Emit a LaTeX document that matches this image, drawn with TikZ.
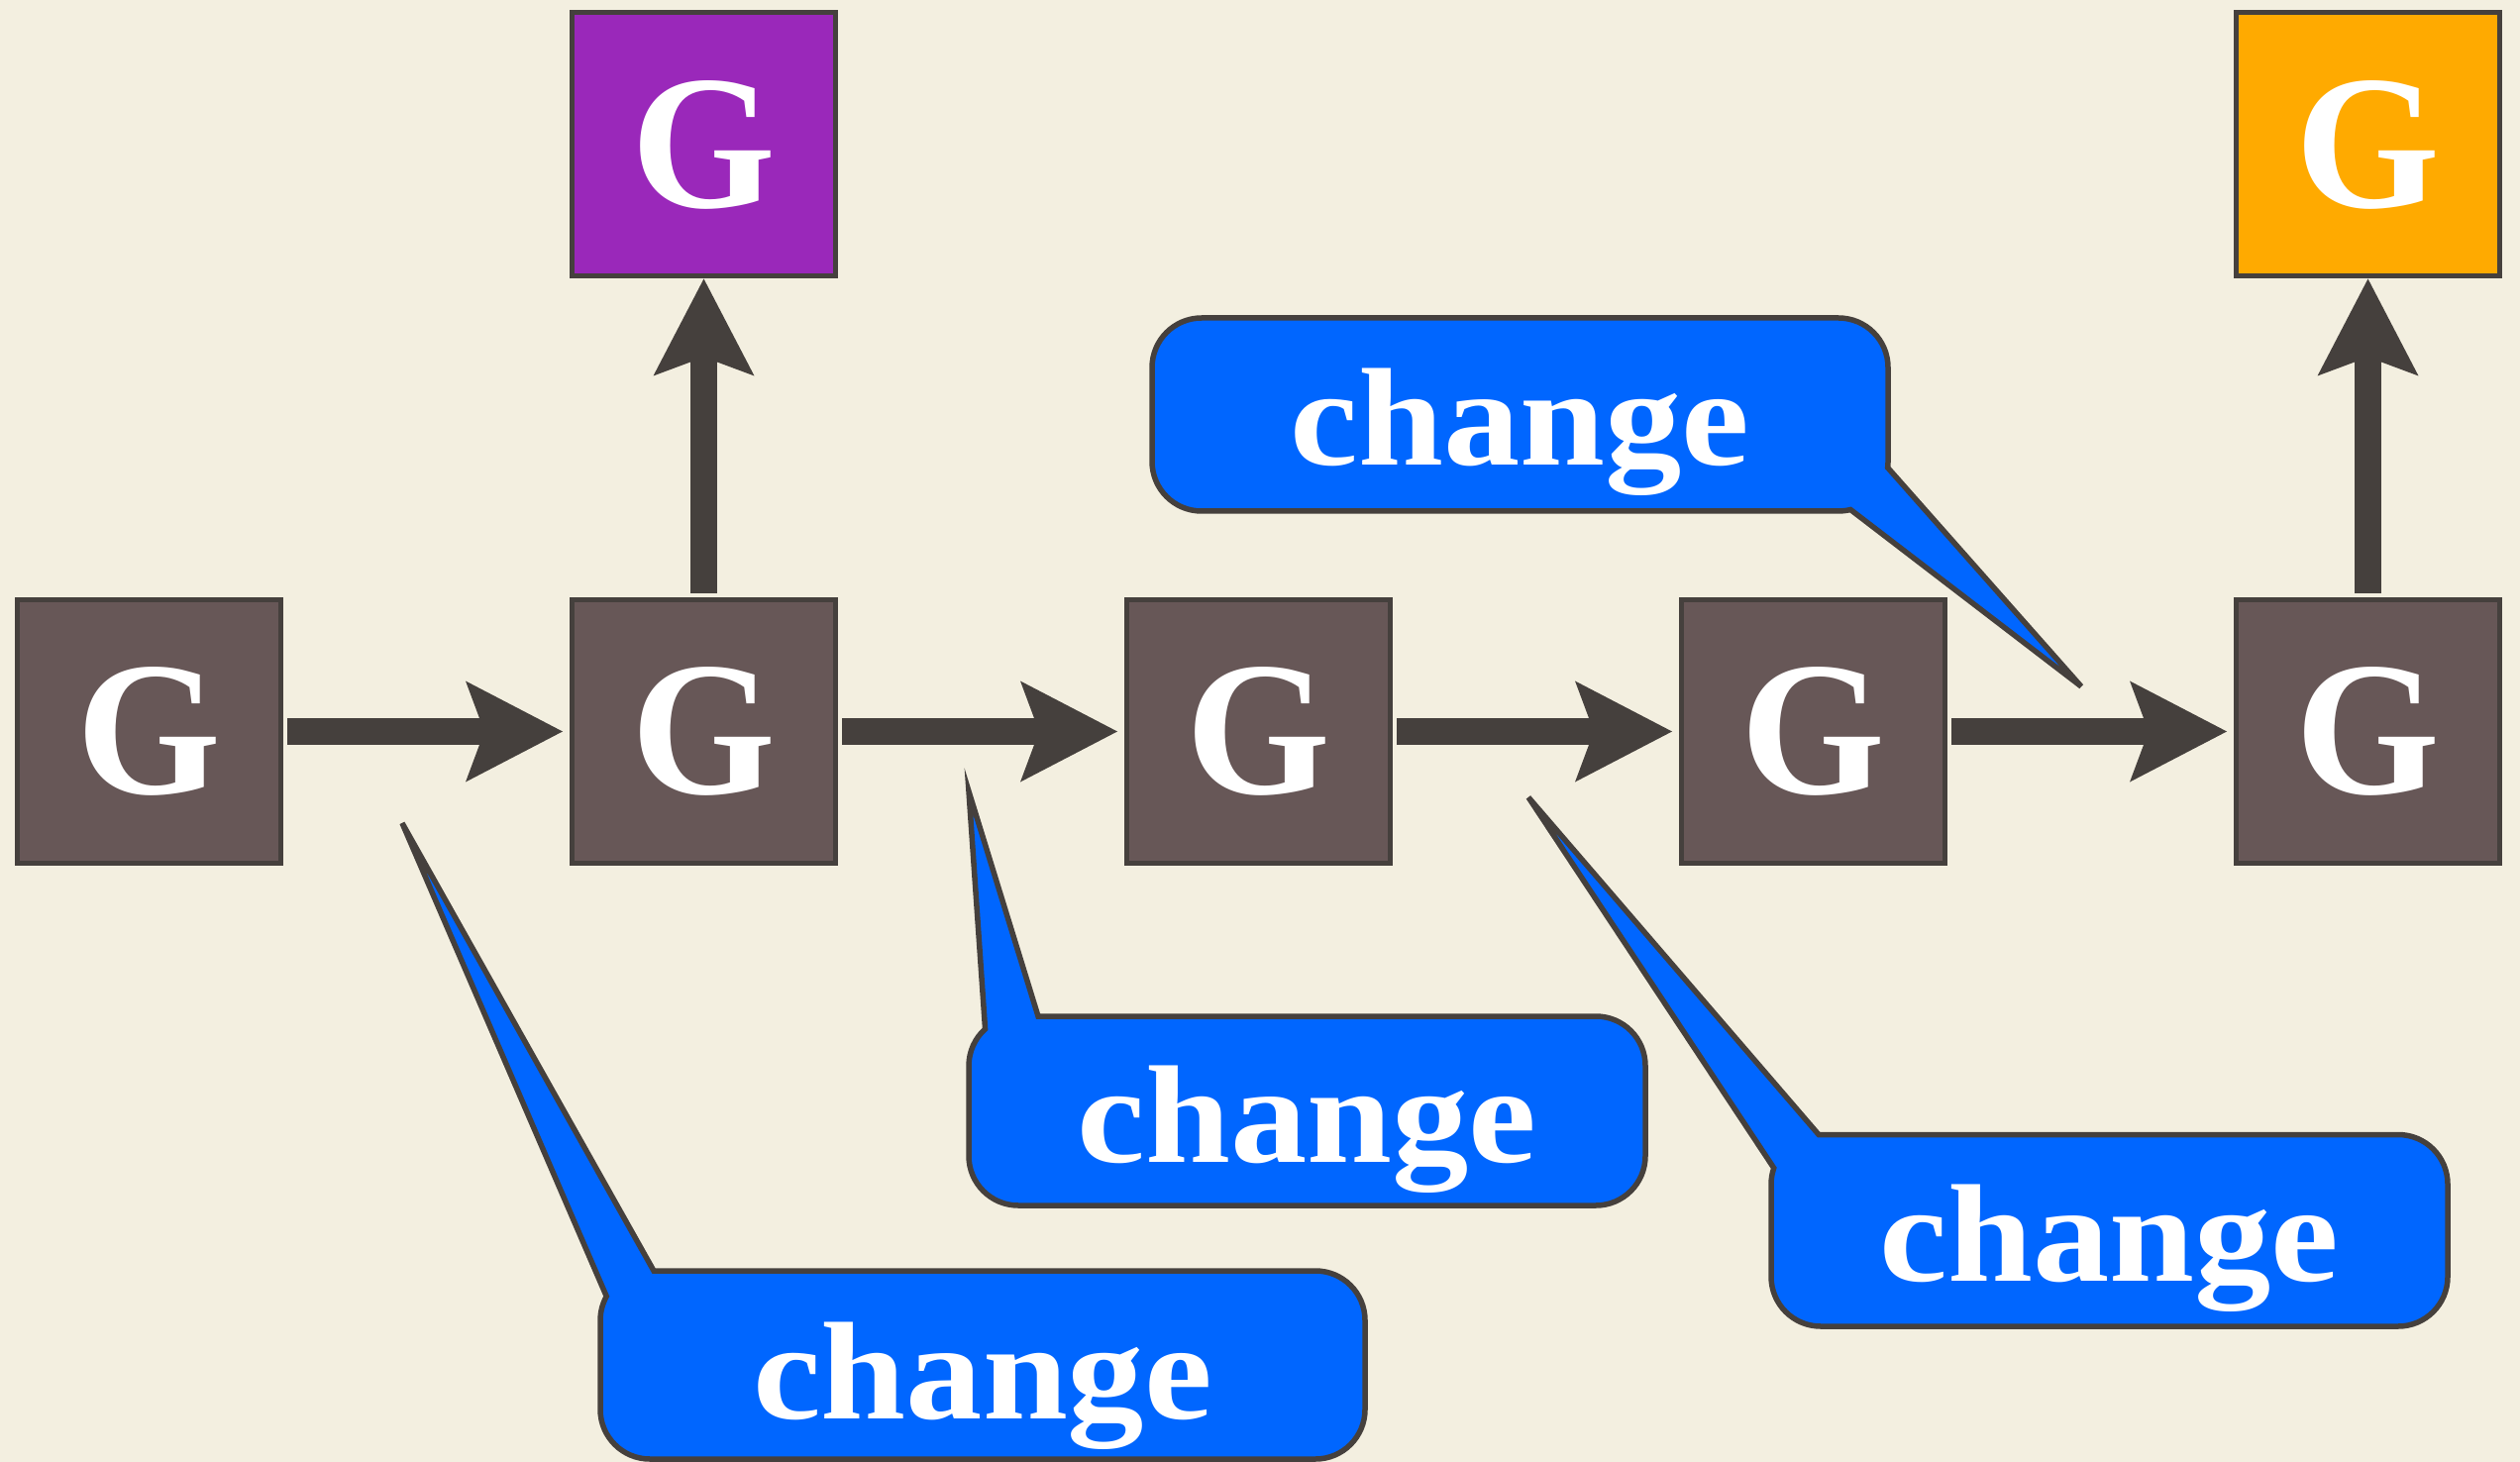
\documentclass[tikz,border=0pt]{standalone}
\usepackage{fontspec}
\setmainfont{Liberation Serif}
\newfontfamily\gfont{Liberation Serif}[FakeStretch=0.97]
\newfontfamily\chgfont{Liberation Serif}[FakeStretch=1.1]
\usetikzlibrary{positioning,arrows.meta}

\definecolor{paper}{HTML}{F3EFE0}
\definecolor{edge}{HTML}{45403D}
\definecolor{boxgray}{HTML}{675757}
\definecolor{callblue}{HTML}{0066FF}
\definecolor{gpurple}{HTML}{9A28BA}
\definecolor{gorange}{HTML}{FFAA00}

\tikzset{
  gbox/.style={draw=edge, line width=0.05cm, fill=boxgray, minimum size=2.66cm, inner sep=0pt,
    text=white, font=\gfont\bfseries\fontsize{55}{60}\selectfont},
  flow/.style={draw=edge, line width=0.27cm, shorten <=0.04cm,
    -{Stealth[length=0.98cm, width=1.02cm, inset=0.19cm, line width=0pt]}},
  bubble/.style={fill=callblue, draw=edge, line width=0.055cm},
  chg/.style={anchor=base, inner sep=0pt, text=white, font=\chgfont\bfseries\fontsize{40}{44}\selectfont}
}

\begin{document}
\begin{tikzpicture}

\useasboundingbox (0,0) rectangle (25.44,-14.76);
\fill[paper] (0,0) rectangle (25.44,-14.76);

% the G chain
\node[gbox] (g1) at (1.505,-7.385) {G};
\node[gbox, right=2.89cm of g1] (g2) {G};
\node[gbox, right=2.89cm of g2] (g3) {G};
\node[gbox, right=2.89cm of g3] (g4) {G};
\node[gbox, right=2.89cm of g4] (g5) {G};
\node[gbox, fill=gpurple, above=3.215cm of g2] (top2) {G};
\node[gbox, fill=gorange, above=3.215cm of g5] (top5) {G};

\draw[flow, shorten >=0.07cm] (g1) -- (g2);
\draw[flow, shorten >=0.07cm] (g2) -- (g3);
\draw[flow, shorten >=0.07cm] (g3) -- (g4);
\draw[flow, shorten >=0.07cm] (g4) -- (g5);
\draw[flow] (g2) -- (top2);
\draw[flow] (g5) -- (top5);

% callouts
\draw[bubble] (4.06,-8.31) -- (6.60,-12.83) -- (13.28,-12.83) arc[start angle=90, end angle=0, radius=0.5]
  -- (13.78,-14.23) arc[start angle=0, end angle=-90, radius=0.5]
  -- (6.56,-14.73) arc[start angle=270, end angle=180, radius=0.5]
  -- (6.06,-13.33) arc[start angle=180, end angle=151, radius=0.5] -- cycle;
\node[chg] (chg1) at (9.92,-14.32) {change};

\draw[bubble] (9.78,-7.99) -- (10.48,-10.26) -- (16.11,-10.26) arc[start angle=90, end angle=0, radius=0.5]
  -- (16.61,-11.67) arc[start angle=0, end angle=-90, radius=0.5]
  -- (10.28,-12.17) arc[start angle=270, end angle=180, radius=0.5]
  -- (9.78,-10.76) arc[start angle=180, end angle=132, radius=0.5] -- cycle;
\node[chg] (chg2) at (13.195,-11.73) {change};

\draw[bubble] (15.43,-8.05) -- (18.36,-11.455) -- (24.21,-11.455) arc[start angle=90, end angle=0, radius=0.5]
  -- (24.71,-12.89) arc[start angle=0, end angle=-90, radius=0.5]
  -- (18.38,-13.39) arc[start angle=270, end angle=180, radius=0.5]
  -- (17.88,-11.955) arc[start angle=180, end angle=161, radius=0.5] -- cycle;
\node[chg] (chg3) at (21.295,-12.935) {change};

\draw[bubble] (21.01,-6.93) -- (18.681,-5.145) arc[start angle=-76, end angle=-90, radius=0.5]
  -- (12.13,-5.16) arc[start angle=270, end angle=180, radius=0.5]
  -- (11.63,-3.71) arc[start angle=180, end angle=90, radius=0.5]
  -- (18.56,-3.21) arc[start angle=90, end angle=0, radius=0.5]
  -- (19.06,-4.66) arc[start angle=0, end angle=-7, radius=0.5] -- cycle;
\node[chg] (chg4) at (15.345,-4.70) {change};

\end{tikzpicture}
\end{document}
